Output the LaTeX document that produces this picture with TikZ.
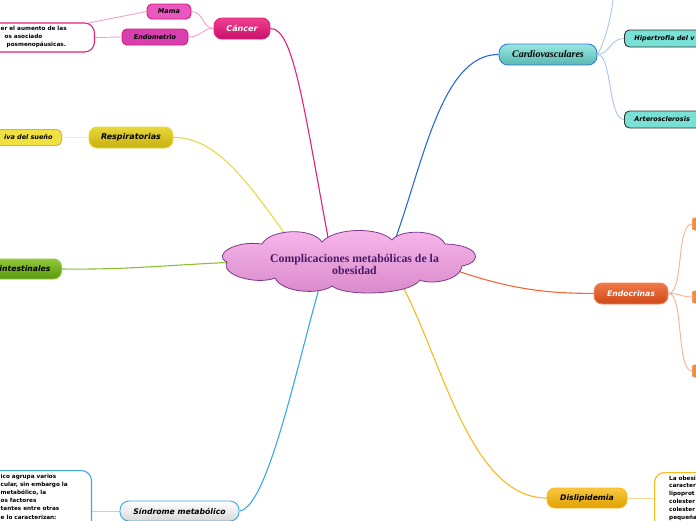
\documentclass[tikz,border=0pt]{standalone}
\usepackage{fontspec}
\newfontfamily\vsans{DejaVu Sans}
\newfontfamily\vserif{Liberation Serif}
\definecolor{cancerc}{HTML}{E8207A}
\definecolor{cancertop}{HTML}{F04090}
\definecolor{cancerbot}{HTML}{C8106A}
\definecolor{pinkln}{HTML}{F4A0C8}
\definecolor{mamaf}{HTML}{E858C0}
\definecolor{endof}{HTML}{D840B0}
\definecolor{pinkbd}{HTML}{D81870}
\definecolor{cardioc}{HTML}{2A6AD8}
\definecolor{cardiotop}{HTML}{98E8E0}
\definecolor{cardiobot}{HTML}{58B8B0}
\definecolor{cardiobd}{HTML}{3878D8}
\definecolor{blueln}{HTML}{A8C4F0}
\definecolor{tealf}{HTML}{78E0D4}
\definecolor{darkbd}{HTML}{303030}
\definecolor{respc}{HTML}{E8D840}
\definecolor{resptop}{HTML}{E8D83A}
\definecolor{respbot}{HTML}{C8B010}
\definecolor{yelln}{HTML}{F4EEA8}
\definecolor{sleepf}{HTML}{F0E040}
\definecolor{sleepbd}{HTML}{F0A830}
\definecolor{intc}{HTML}{8AC030}
\definecolor{inttop}{HTML}{90C838}
\definecolor{intbot}{HTML}{5A9810}
\definecolor{sindc}{HTML}{38A8E8}
\definecolor{sindtop}{HTML}{FFFFFF}
\definecolor{sindbot}{HTML}{D8D8D8}
\definecolor{paleblue}{HTML}{B0D8F0}
\definecolor{dislc}{HTML}{F8B820}
\definecolor{disltop}{HTML}{F8C840}
\definecolor{dislbot}{HTML}{E0A000}
\definecolor{paleorange}{HTML}{F8DC98}
\definecolor{endoc}{HTML}{F06838}
\definecolor{endotop}{HTML}{F07848}
\definecolor{endobot}{HTML}{D04818}
\definecolor{endobd}{HTML}{F08860}
\definecolor{salmonln}{HTML}{F8B090}
\definecolor{stubf}{HTML}{F09030}
\definecolor{cloudtop}{HTML}{F8B8EC}
\definecolor{cloudbot}{HTML}{D888C8}
\definecolor{cloudln}{HTML}{7A3A90}
\definecolor{cloudtxt}{HTML}{4A1A6A}
\pgfdeclarelayer{bg}
\pgfsetlayers{bg,main}
\begin{document}
\begin{tikzpicture}[x=1pt,y=-1pt,
  pill/.style={rounded corners=8pt, line width=0.9pt, inner sep=0pt,
    font=\vsans\bfseries\itshape\fontsize{7.7}{9}\selectfont},
  leaf/.style={rounded corners=5pt, line width=0.9pt, inner sep=0pt,
    font=\vsans\bfseries\itshape\fontsize{6.5}{8}\selectfont},
  txtbox/.style={rounded corners=10pt, line width=1.1pt, fill=white, inner sep=0pt},
  smalltxt/.style={inner sep=0pt, align=left,
    font=\vsans\bfseries\fontsize{5.7}{8.2}\selectfont},
  mainln/.style={line width=1.1pt},
  subln/.style={line width=0.9pt}]
\useasboundingbox (0,0) rectangle (696,520);

% ---------- nodes ----------
\node[pill, draw=cancerc, top color=cancertop, bottom color=cancerbot, text=white,
  minimum width=56pt, minimum height=21pt, font=\vsans\bfseries\itshape\fontsize{8}{9}\selectfont]
  (cancer) at (242,28.5) {Cáncer};
\node[leaf, draw=pinkbd, fill=mamaf, minimum width=44pt, minimum height=15pt]
  (mama) at (169,11.5) {Mama};
\node[leaf, draw=pinkbd, fill=endof, minimum width=66pt, minimum height=16pt]
  (endo) at (155,37) {Endometrio};
\node[txtbox, draw=cancerc, minimum width=120pt, minimum height=29pt, anchor=east]
  (cbox) at (95,37.5) {};
\node[smalltxt, anchor=north west] (ctext) at (0.5,25.5)
  {er el aumento de las\\ \hspace{4pt}os asociado\\ \hspace{4pt} posmenopáusicas.};
\coordinate (mamaend) at (86,23.5);

\node[pill, draw=cardiobd, top color=cardiotop, bottom color=cardiobot,
  minimum width=98pt, minimum height=21pt, rounded corners=9pt,
  font=\vserif\bfseries\itshape\fontsize{10}{11}\selectfont]
  (cardio) at (548,54.5) {Cardiovasculares};
\node[leaf, draw=darkbd, fill=tealf, anchor=west, minimum height=17pt,
  text width=80pt, align=left, inner xsep=10pt]
  (hiper) at (624,38.5) {Hipertrofia del v};
\node[leaf, draw=darkbd, fill=tealf, anchor=west, minimum height=17pt,
  text width=80pt, align=left, inner xsep=10pt]
  (artero) at (624,119.5) {Arterosclerosis};
\coordinate (cardiotopend) at (613,-1);

\node[pill, draw=respc, top color=resptop, bottom color=respbot,
  minimum width=84pt, minimum height=21pt, font=\vsans\bfseries\itshape\fontsize{8}{9}\selectfont]
  (resp) at (131,137.5) {Respiratorias};
\node[leaf, draw=sleepbd, fill=sleepf, anchor=east, minimum height=16pt,
  text width=60pt, align=right, inner xsep=9pt]
  (sleep) at (62,137.5) {iva del sueño};

\node[pill, draw=inttop, top color=inttop, bottom color=intbot, anchor=east,
  minimum height=20pt, text width=60pt, align=right, inner xsep=11pt]
  (intes) at (62,269) {intestinales};

\node[pill, draw=sindc, top color=sindtop, bottom color=sindbot,
  minimum width=119pt, minimum height=20pt, rounded corners=9pt]
  (sind) at (179.5,511) {Síndrome metabólico};
\node[txtbox, draw=sindc, minimum width=112pt, minimum height=66pt, anchor=north east]
  (sbox) at (92,470) {};
\node[smalltxt, anchor=north west] (stext) at (0.5,473.5)
  {ico agrupa varios\\ cular, sin embargo la\\ metabólico, la\\ os factores\\ tantes entre otras\\ e lo caracterizan:};

\node[pill, draw=dislc, top color=disltop, bottom color=dislbot,
  minimum width=80pt, minimum height=20pt]
  (disl) at (587,498) {Dislipidemia};
\node[txtbox, draw=dislc, minimum width=70pt, minimum height=66pt, anchor=north west]
  (dbox) at (654,472) {};
\node[smalltxt, anchor=north west, font=\vsans\bfseries\fontsize{5.7}{7.9}\selectfont]
  (dtext) at (669,475.5)
  {La obesi\\ caracter\\ lipoprot\\ colester\\ colester\\ pequeña};

\node[pill, draw=endobd, top color=endotop, bottom color=endobot, text=white,
  minimum width=74pt, minimum height=21pt]
  (endoc) at (631,293.5) {Endocrinas};
\node[rounded corners=2pt, fill=stubf, draw=endobd, line width=0.6pt,
  minimum width=10pt, minimum height=12pt, inner sep=0pt, anchor=west] (stub1) at (692,224) {};
\node[rounded corners=2pt, fill=stubf, draw=endobd, line width=0.6pt,
  minimum width=10pt, minimum height=12pt, inner sep=0pt, anchor=west] (stub2) at (692,297) {};
\node[rounded corners=2pt, fill=stubf, draw=endobd, line width=0.6pt,
  minimum width=10pt, minimum height=12pt, inner sep=0pt, anchor=west] (stub3) at (692,371) {};

% ---------- central cloud ----------
\path[draw=cloudln, line width=0.8pt, top color=cloudtop, bottom color=cloudbot]
  (227,262) .. controls (212,255) and (235,240) .. (262,244)
  .. controls (270,229) and (312,227) .. (322,242)
  .. controls (335,227) and (380,227) .. (392,240)
  .. controls (400,229) and (438,229) .. (445,244)
  .. controls (480,245) and (484,262) .. (462,266)
  .. controls (460,281) and (430,285) .. (420,280)
  .. controls (410,295) and (345,297) .. (332,286)
  .. controls (320,295) and (282,293) .. (275,278)
  .. controls (258,285) and (220,276) .. (227,262) -- cycle;
\node[inner sep=0pt, align=center, text=cloudtxt,
  font=\vserif\bfseries\fontsize{11.8}{12.5}\selectfont] (center) at (354.5,264.5)
  {Complicaciones metabólicas de la\\obesidad};
\coordinate (c-cancer) at (330,248);
\coordinate (c-cardio) at (392,248);
\coordinate (c-resp) at (295,248);
\coordinate (c-intes) at (240,262);
\coordinate (c-sind) at (322,278);
\coordinate (c-disl) at (398,278);
\coordinate (c-endo) at (455,270);

% ---------- connectors ----------
\begin{pgfonlayer}{bg}
\draw[mainln, cancerc] (cancer.east) .. controls (294,28) and (304,110) .. (c-cancer);
\draw[mainln, cardioc] (c-cardio) .. controls (422,170) and (440,54) .. (cardio.west);
\draw[mainln, respc] (resp.east) .. controls (218,137) and (250,185) .. (c-resp);
\draw[mainln, intc] (intes.east) .. controls (130,270) and (180,264) .. (c-intes);
\draw[mainln, sindc] (sind.east) .. controls (268,508) and (298,360) .. (c-sind);
\draw[mainln, dislc] (c-disl) .. controls (440,350) and (468,498) .. (disl.west);
\draw[mainln, endoc] (c-endo) .. controls (520,293) and (560,293) .. (endoc.west);

\draw[subln, pinkln] (cancer.west) .. controls (202,28) and (204,12) .. (mama.east);
\draw[subln, pinkln] (cancer.west) .. controls (202,28) and (202,37) .. (endo.east);
\draw[subln, pinkln] (mama.west) -- (mamaend);
\draw[subln, pinkln] (endo.west) -- (cbox.east);

\draw[subln, blueln] (cardio.east) .. controls (610,54) and (610,38.5) .. (hiper.west);
\draw[subln, blueln] (cardio.east) .. controls (612,54) and (608,119.5) .. (artero.west);
\draw[subln, blueln] (cardio.east) .. controls (606,40) and (612,12) .. (cardiotopend);

\draw[subln, yelln] (resp.west) -- (sleep.east);
\draw[subln, paleblue] (sind.west) -- (sbox.east |- sind.west);
\draw[subln, paleorange] (disl.east) -- (dbox.west |- disl.east);

\draw[subln, salmonln] (endoc.east) .. controls (684,293) and (676,224) .. (stub1.west);
\draw[subln, salmonln] (endoc.east) .. controls (680,293) and (680,297) .. (stub2.west);
\draw[subln, salmonln] (endoc.east) .. controls (684,293) and (676,371) .. (stub3.west);
\end{pgfonlayer}
\end{tikzpicture}
\end{document}
